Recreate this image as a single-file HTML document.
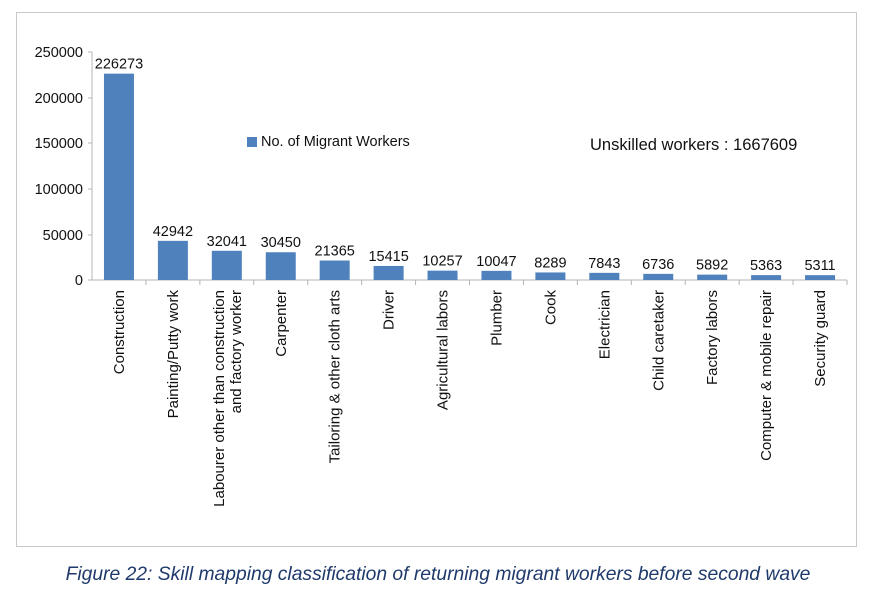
<!DOCTYPE html>
<html><head><meta charset="utf-8"><style>
body{margin:0;background:#fff;width:880px;height:590px;overflow:hidden}
svg{display:block}
text{font-family:"Liberation Sans",sans-serif;fill:#111}
</style></head><body>
<svg width="880" height="590" viewBox="0 0 880 590">
<rect x="16.5" y="12.5" width="840" height="534" fill="#fff" stroke="#c8c8c8"/>
<g stroke="#b4b4b4">
<line x1="92" y1="52" x2="92" y2="280"/>
<line x1="92" y1="280" x2="847" y2="280"/>
<line x1="88" y1="52" x2="92" y2="52"/><line x1="88" y1="98" x2="92" y2="98"/>
<line x1="88" y1="143" x2="92" y2="143"/><line x1="88" y1="189" x2="92" y2="189"/>
<line x1="88" y1="235" x2="92" y2="235"/><line x1="88" y1="280" x2="92" y2="280"/>
</g>
<g font-size="14.5" text-anchor="end">
<text x="83" y="57">250000</text><text x="83" y="103">200000</text>
<text x="83" y="148">150000</text><text x="83" y="194">100000</text>
<text x="83" y="240">50000</text><text x="83" y="285">0</text>
</g>
<g id="bars"></g>
<rect x="247" y="137" width="10" height="10" fill="#4f81bd"/>
<text x="261" y="146" font-size="14.5">No. of Migrant Workers</text>
<text x="590" y="150" font-size="16.5">Unskilled workers : 1667609</text>
<text x="438" y="580" font-size="19.3" font-style="italic" text-anchor="middle" style="fill:#1f3a6b">Figure 22: Skill mapping classification of returning migrant workers before second wave</text>
</svg>
<script>
var d=[["Construction",226273],["Painting/Putty work",42942],["Labourer other than construction|and factory worker",32041],["Carpenter",30450],["Tailoring & other cloth arts",21365],["Driver",15415],["Agricultural labors",10257],["Plumber",10047],["Cook",8289],["Electrician",7843],["Child caretaker",6736],["Factory labors",5892],["Computer & mobile repair",5363],["Security guard",5311]];
var g=document.getElementById('bars'),s='',w=755/14;
d.forEach(function(e,i){var x0=92+i*w,c=x0+w/2,h=e[1]/250000*228,y=280-h;
s+='<rect x="'+(c-15)+'" y="'+y+'" width="30" height="'+h+'" fill="#4f81bd"/>';
s+='<line x1="'+(x0+w)+'" y1="280" x2="'+(x0+w)+'" y2="285" stroke="#b4b4b4"/>';
s+='<text x="'+c+'" y="'+(y-5)+'" font-size="14.5" text-anchor="middle">'+e[1]+'</text>';
var L=e[0].split('|');
L.forEach(function(t,j){var off=(L.length==1?5:(j==0?-3:14));
s+='<text transform="translate('+(c+off)+',290) rotate(-90)" font-size="15" text-anchor="end">'+t.replace('&','&amp;')+'</text>';});
});
g.innerHTML=s;
</script>
</body></html>
